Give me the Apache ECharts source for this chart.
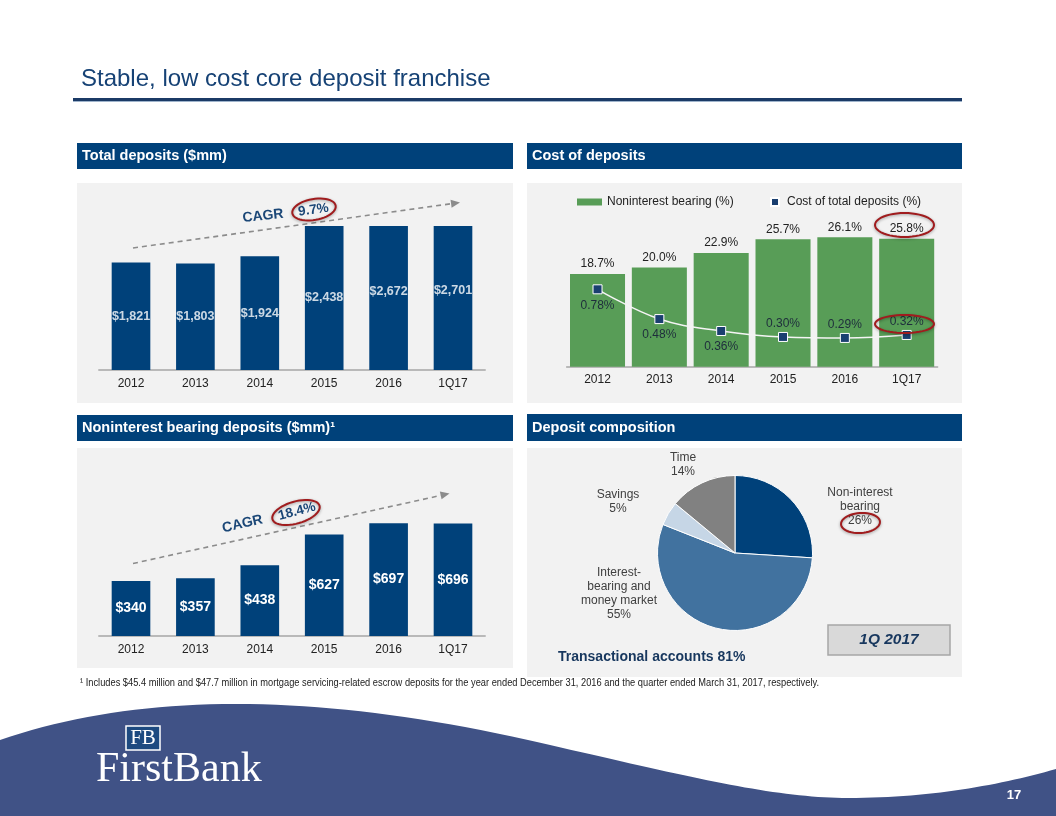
<!DOCTYPE html>
<html>
<head>
<meta charset="utf-8">
<script src="https://cdn.jsdelivr.net/npm/echarts@6/dist/echarts.min.js"></script>
<style>
html,body{margin:0;padding:0;background:#fff;}
#main{width:1056px;height:816px;}
</style>
</head>
<body>
<div id="main"></div>
<script>
// ---------- data ----------
const categories = ['2012', '2013', '2014', '2015', '2016', '1Q17'];
const totalDeposits = [1821, 1803, 1924, 2438, 2672, 2701];
const nonintSharePct = [18.7, 20.0, 22.9, 25.7, 26.1, 25.8];
const costOfDepositsPct = [0.78, 0.48, 0.36, 0.30, 0.29, 0.32];
const nonintDeposits = [340, 357, 438, 627, 697, 696];
const compNames = ['Non-interest bearing', 'Interest-bearing and money market', 'Savings', 'Time'];
const compLabels = ['Non-interest\nbearing', 'Interest-\nbearing and\nmoney market', 'Savings', 'Time'];
const compValues = [26, 55, 5, 14];

// ---------- styles ----------
const FONT = "'Liberation Sans', Arial, sans-serif";
const SERIF = "'Liberation Serif', 'Times New Roman', serif";
const NAVY = '#00417a';
const GREEN = '#589d57';
const RED = '#a01c1e';
const WAVE = '#405286';

function ellipsePts(cx, cy, rx, ry, rotDeg) {
  const pts = [];
  const r = rotDeg * Math.PI / 180;
  for (let i = 0; i < 48; i++) {
    const a = i / 48 * Math.PI * 2;
    const x = rx * Math.cos(a), y = ry * Math.sin(a);
    pts.push([cx + x * Math.cos(r) - y * Math.sin(r), cy + x * Math.sin(r) + y * Math.cos(r)]);
  }
  return pts;
}
function ellipse(cx, cy, rx, ry, rotDeg) {
  return { type: 'polygon', z: 100, silent: true, shape: { points: ellipsePts(cx, cy, rx, ry, rotDeg) },
    style: { fill: 'none', stroke: RED, lineWidth: 2, shadowBlur: 3, shadowColor: 'rgba(0,0,0,0.35)', shadowOffsetY: 1 } };
}
function arrow(x1, y1, x2, y2) {
  const dx = x2 - x1, dy = y2 - y1, L = Math.hypot(dx, dy);
  const ux = dx / L, uy = dy / L, nx = -uy, ny = ux;
  const bx = x2 - 9 * ux, by = y2 - 9 * uy;
  return [
    { type: 'line', z: 90, silent: true, shape: { x1, y1, x2: bx, y2: by },
      style: { stroke: '#8c8c8c', lineWidth: 1.6, lineDash: [5, 4] } },
    { type: 'polygon', z: 90, silent: true,
      shape: { points: [[x2, y2], [bx + 4 * nx, by + 4 * ny], [bx - 4 * nx, by - 4 * ny]] },
      style: { fill: '#8c8c8c' } }
  ];
}
function txt(x, y, text, opts) {
  const o = Object.assign({ size: 12, color: '#222', weight: 'normal', align: 'left', valign: 'middle', rot: 0, family: FONT, style: 'normal', sx: 1, sy: 1, z: 100 }, opts || {});
  return { type: 'text', z: o.z, silent: true, x, y, rotation: o.rot * Math.PI / 180, scaleX: o.sx, scaleY: o.sy,
    style: { text, fill: o.color, fontSize: o.size, fontWeight: o.weight, fontStyle: o.style, fontFamily: o.family,
      align: o.align, verticalAlign: o.valign, textAlign: o.align, textVerticalAlign: o.valign } };
}
function rect(x, y, w, h, fill, z, extra) {
  return Object.assign({ type: 'rect', z: z, silent: true, shape: { x, y, width: w, height: h }, style: { fill } }, extra || {});
}
// footer wave outline
function wavePoints() {
  const pts = [];
  const q = (p0, p1, p2, t) => (1 - t) * (1 - t) * p0 + 2 * t * (1 - t) * p1 + t * t * p2;
  const c = (p0, p1, p2, p3, t) => Math.pow(1 - t, 3) * p0 + 3 * t * Math.pow(1 - t, 2) * p1 + 3 * t * t * (1 - t) * p2 + t * t * t * p3;
  for (let i = 0; i <= 40; i++) { const t = i / 40; pts.push([q(0, 208, 528, t), q(740, 668, 740, t)]); }
  for (let i = 1; i <= 40; i++) { const t = i / 40; pts.push([c(528, 678, 770, 848, t), c(740, 774, 798, 798, t)]); }
  for (let i = 1; i <= 30; i++) { const t = i / 30; pts.push([c(848, 930, 1000, 1056, t), c(798, 798, 785, 769, t)]); }
  pts.push([1056, 816], [0, 816]);
  return pts;
}

const labelPos = [[860, 507], [619, 594], [618, 502], [683, 465]];

const chart = echarts.init(document.getElementById('main'), null, { renderer: 'canvas' });

const graphics = [
  // title
  txt(81, 79, 'Stable, low cost core deposit franchise', { size: 24, color: '#164275' }),
  rect(73, 98, 889, 3, '#1b3a66', 1),
  rect(73, 101, 889, 1, '#9fb4cc', 1),
  // panel backgrounds
  rect(77, 183, 436, 220, '#f2f2f2', -10),
  rect(527, 183, 435, 220, '#f2f2f2', -10),
  rect(77, 448, 436, 220, '#f2f2f2', -10),
  rect(527, 448, 435, 229, '#f2f2f2', -10),
  // headers
  rect(77, 143, 436, 26, NAVY, 1),
  rect(527, 143, 435, 26, NAVY, 1),
  rect(77, 415, 436, 26, NAVY, 1),
  rect(527, 414, 435, 27, NAVY, 1),
  txt(82, 156, 'Total deposits ($mm)', { size: 14.5, weight: 'bold', color: '#fff' }),
  txt(532, 156, 'Cost of deposits', { size: 14.5, weight: 'bold', color: '#fff' }),
  txt(82, 428, 'Noninterest bearing deposits ($mm)¹', { size: 14.5, weight: 'bold', color: '#fff' }),
  txt(532, 427.5, 'Deposit composition', { size: 14.5, weight: 'bold', color: '#fff' }),
  // CAGR annotations
  ...arrow(133, 248, 460, 202.5),
  txt(263, 216, 'CAGR', { size: 14, weight: 'bold', color: '#1b4777', align: 'center', rot: 6 }),
  txt(313.5, 210, '9.7%', { size: 13.5, weight: 'bold', color: '#1b4777', align: 'center', rot: 8 }),
  ellipse(314, 209.5, 22, 10.5, -10),
  ...arrow(133, 563.5, 449.5, 493.5),
  txt(242.5, 524, 'CAGR', { size: 14, weight: 'bold', color: '#1b4777', align: 'center', rot: 13 }),
  txt(297, 511.5, '18.4%', { size: 13.5, weight: 'bold', color: '#1b4777', align: 'center', rot: 15 }),
  ellipse(296, 512.5, 24.5, 11, -16),
  // cost of deposits highlights
  ellipse(904.5, 225, 29.5, 12, 0),
  ellipse(904.5, 324, 29.5, 9, 0),
  // pie highlight
  ellipse(860.5, 523, 19.5, 10, -4),
  // 1Q 2017 box
  rect(828, 625, 122, 30, '#d9d9d9', 5, { style: { fill: '#d9d9d9', stroke: '#a6a6a6', lineWidth: 1.5 } }),
  txt(889, 640, '1Q 2017', { size: 15.5, weight: 'bold', style: 'italic', color: '#17375e', align: 'center' }),
  txt(558, 657, 'Transactional accounts 81%', { size: 14, weight: 'bold', color: '#17375e' }),
  // footnote
  txt(80, 683, '¹ Includes $45.4 million and $47.7 million in mortgage servicing-related escrow deposits for the year ended December 31, 2016 and the quarter ended March 31, 2017, respectively.',
    { size: 10.5, sx: 0.885, color: '#222' }),
  // footer wave
  { type: 'polygon', z: -5, silent: true, shape: { points: wavePoints() }, style: { fill: WAVE } },
  // logo
  rect(126, 726, 34, 24, '#1d4a80', 6, { style: { fill: '#1d4a80', stroke: '#ffffff', lineWidth: 1.5 } }),
  txt(143, 738.5, 'FB', { size: 21, color: '#fff', align: 'center', family: SERIF }),
  txt(96, 770, 'FirstBank', { size: 42, color: '#fff', family: SERIF }),
  txt(1014, 795, '17', { size: 13, weight: 'bold', color: '#fff', align: 'center' })
];

const axisCommon = {
  type: 'category', data: categories,
  axisLine: { lineStyle: { color: '#a6a6a6', width: 1.5 } },
  axisTick: { show: false },
  axisLabel: { fontSize: 12, color: '#222', fontFamily: FONT }
};

const option = {
  animation: false,
  textStyle: { fontFamily: FONT },
  grid: [
    { left: 98.8, width: 386.4, top: 226, height: 144 },
    { left: 566.6, width: 371, top: 217.9, height: 148.8 },
    { left: 98.8, width: 386.4, top: 506.6, height: 129.4 }
  ],
  xAxis: [
    Object.assign({}, axisCommon, { gridIndex: 0, axisLabel: Object.assign({}, axisCommon.axisLabel, { margin: 8 }) }),
    Object.assign({}, axisCommon, { gridIndex: 1, axisLabel: Object.assign({}, axisCommon.axisLabel, { margin: 7 }) }),
    Object.assign({}, axisCommon, { gridIndex: 2, axisLabel: Object.assign({}, axisCommon.axisLabel, { margin: 8 }) })
  ],
  yAxis: [
    { type: 'value', gridIndex: 0, min: 0, max: 2438, show: false },
    { type: 'value', gridIndex: 1, min: 0, max: 30, show: false },
    { type: 'value', gridIndex: 1, min: 0, max: 1.5, show: false },
    { type: 'value', gridIndex: 2, min: 0, max: 800, show: false }
  ],
  legend: [
    { data: ['Noninterest bearing (%)'], left: 577, top: 196, padding: 0, itemWidth: 25, itemHeight: 7, icon: 'rect',
      textStyle: { fontSize: 12, color: '#222' }, selectedMode: false },
    { data: ['Cost of total deposits (%)'], left: 770, top: 196, padding: 0, itemWidth: 8, itemHeight: 8, icon: 'rect',
      textStyle: { fontSize: 12, color: '#222', padding: [0, 0, 0, 3] }, selectedMode: false }
  ],
  graphic: graphics,
  series: [
    { type: 'bar', name: 'Total deposits', xAxisIndex: 0, yAxisIndex: 0, data: totalDeposits,
      barCategoryGap: '40%', clip: true, itemStyle: { color: NAVY }, silent: true },
    { type: 'scatter', name: 'Total deposits labels', xAxisIndex: 0, yAxisIndex: 0,
      data: totalDeposits.map(v => v / 2), symbolSize: 0, silent: true, z: 5,
      label: { show: true, position: 'inside', color: '#fff', fontWeight: 'bold', fontSize: 12.5,
        formatter: p => '$' + totalDeposits[p.dataIndex].toLocaleString('en-US') } },
    { type: 'bar', name: 'Noninterest bearing (%)', xAxisIndex: 1, yAxisIndex: 1, data: nonintSharePct,
      barCategoryGap: '11%', itemStyle: { color: GREEN }, silent: true,
      label: { show: true, position: 'top', distance: 4, fontSize: 12, color: '#222',
        formatter: p => p.value.toFixed(1) + '%' } },
    { type: 'line', name: 'Cost of total deposits (%)', xAxisIndex: 1, yAxisIndex: 2,
      data: costOfDepositsPct.map((v, i) => ({ value: v,
        label: i < 3 ? { position: 'bottom', distance: 5 } : { position: 'top', distance: 2 } })),
      smooth: 0.4, symbol: 'rect', symbolSize: 9, z: 6, silent: true,
      lineStyle: { color: '#f4f4f4', width: 1.5 },
      itemStyle: { color: '#1a3f70', borderColor: '#ffffff', borderWidth: 1 },
      label: { show: true, distance: 5, fontSize: 12, color: '#1e2d3c',
        formatter: p => p.value.toFixed(2) + '%' } },
    { type: 'bar', name: 'Noninterest bearing deposits', xAxisIndex: 2, yAxisIndex: 3, data: nonintDeposits,
      barCategoryGap: '40%', itemStyle: { color: NAVY }, silent: true,
      label: { show: true, position: 'inside', color: '#fff', fontWeight: 'bold', fontSize: 14,
        formatter: p => '$' + p.value } },
    { type: 'pie', name: 'Deposit composition', center: [735, 553], radius: 77.5, startAngle: 90, clockwise: true,
      silent: true, color: ['#00417a', '#41729f', '#c6d6e6', '#818181'],
      itemStyle: { borderColor: '#ffffff', borderWidth: 1 },
      data: compNames.map((n, i) => ({ name: n, value: compValues[i] })),
      label: { show: true, position: 'outside', fontSize: 12, color: '#404040', lineHeight: 14, align: 'center',
        formatter: p => compLabels[p.dataIndex] + '\n' + p.value + '%' },
      labelLine: { show: false },
      labelLayout: p => ({ x: labelPos[p.dataIndex][0], y: labelPos[p.dataIndex][1], align: 'center', verticalAlign: 'middle' }) }
  ]
};
chart.setOption(option);
</script>
</body>
</html>
